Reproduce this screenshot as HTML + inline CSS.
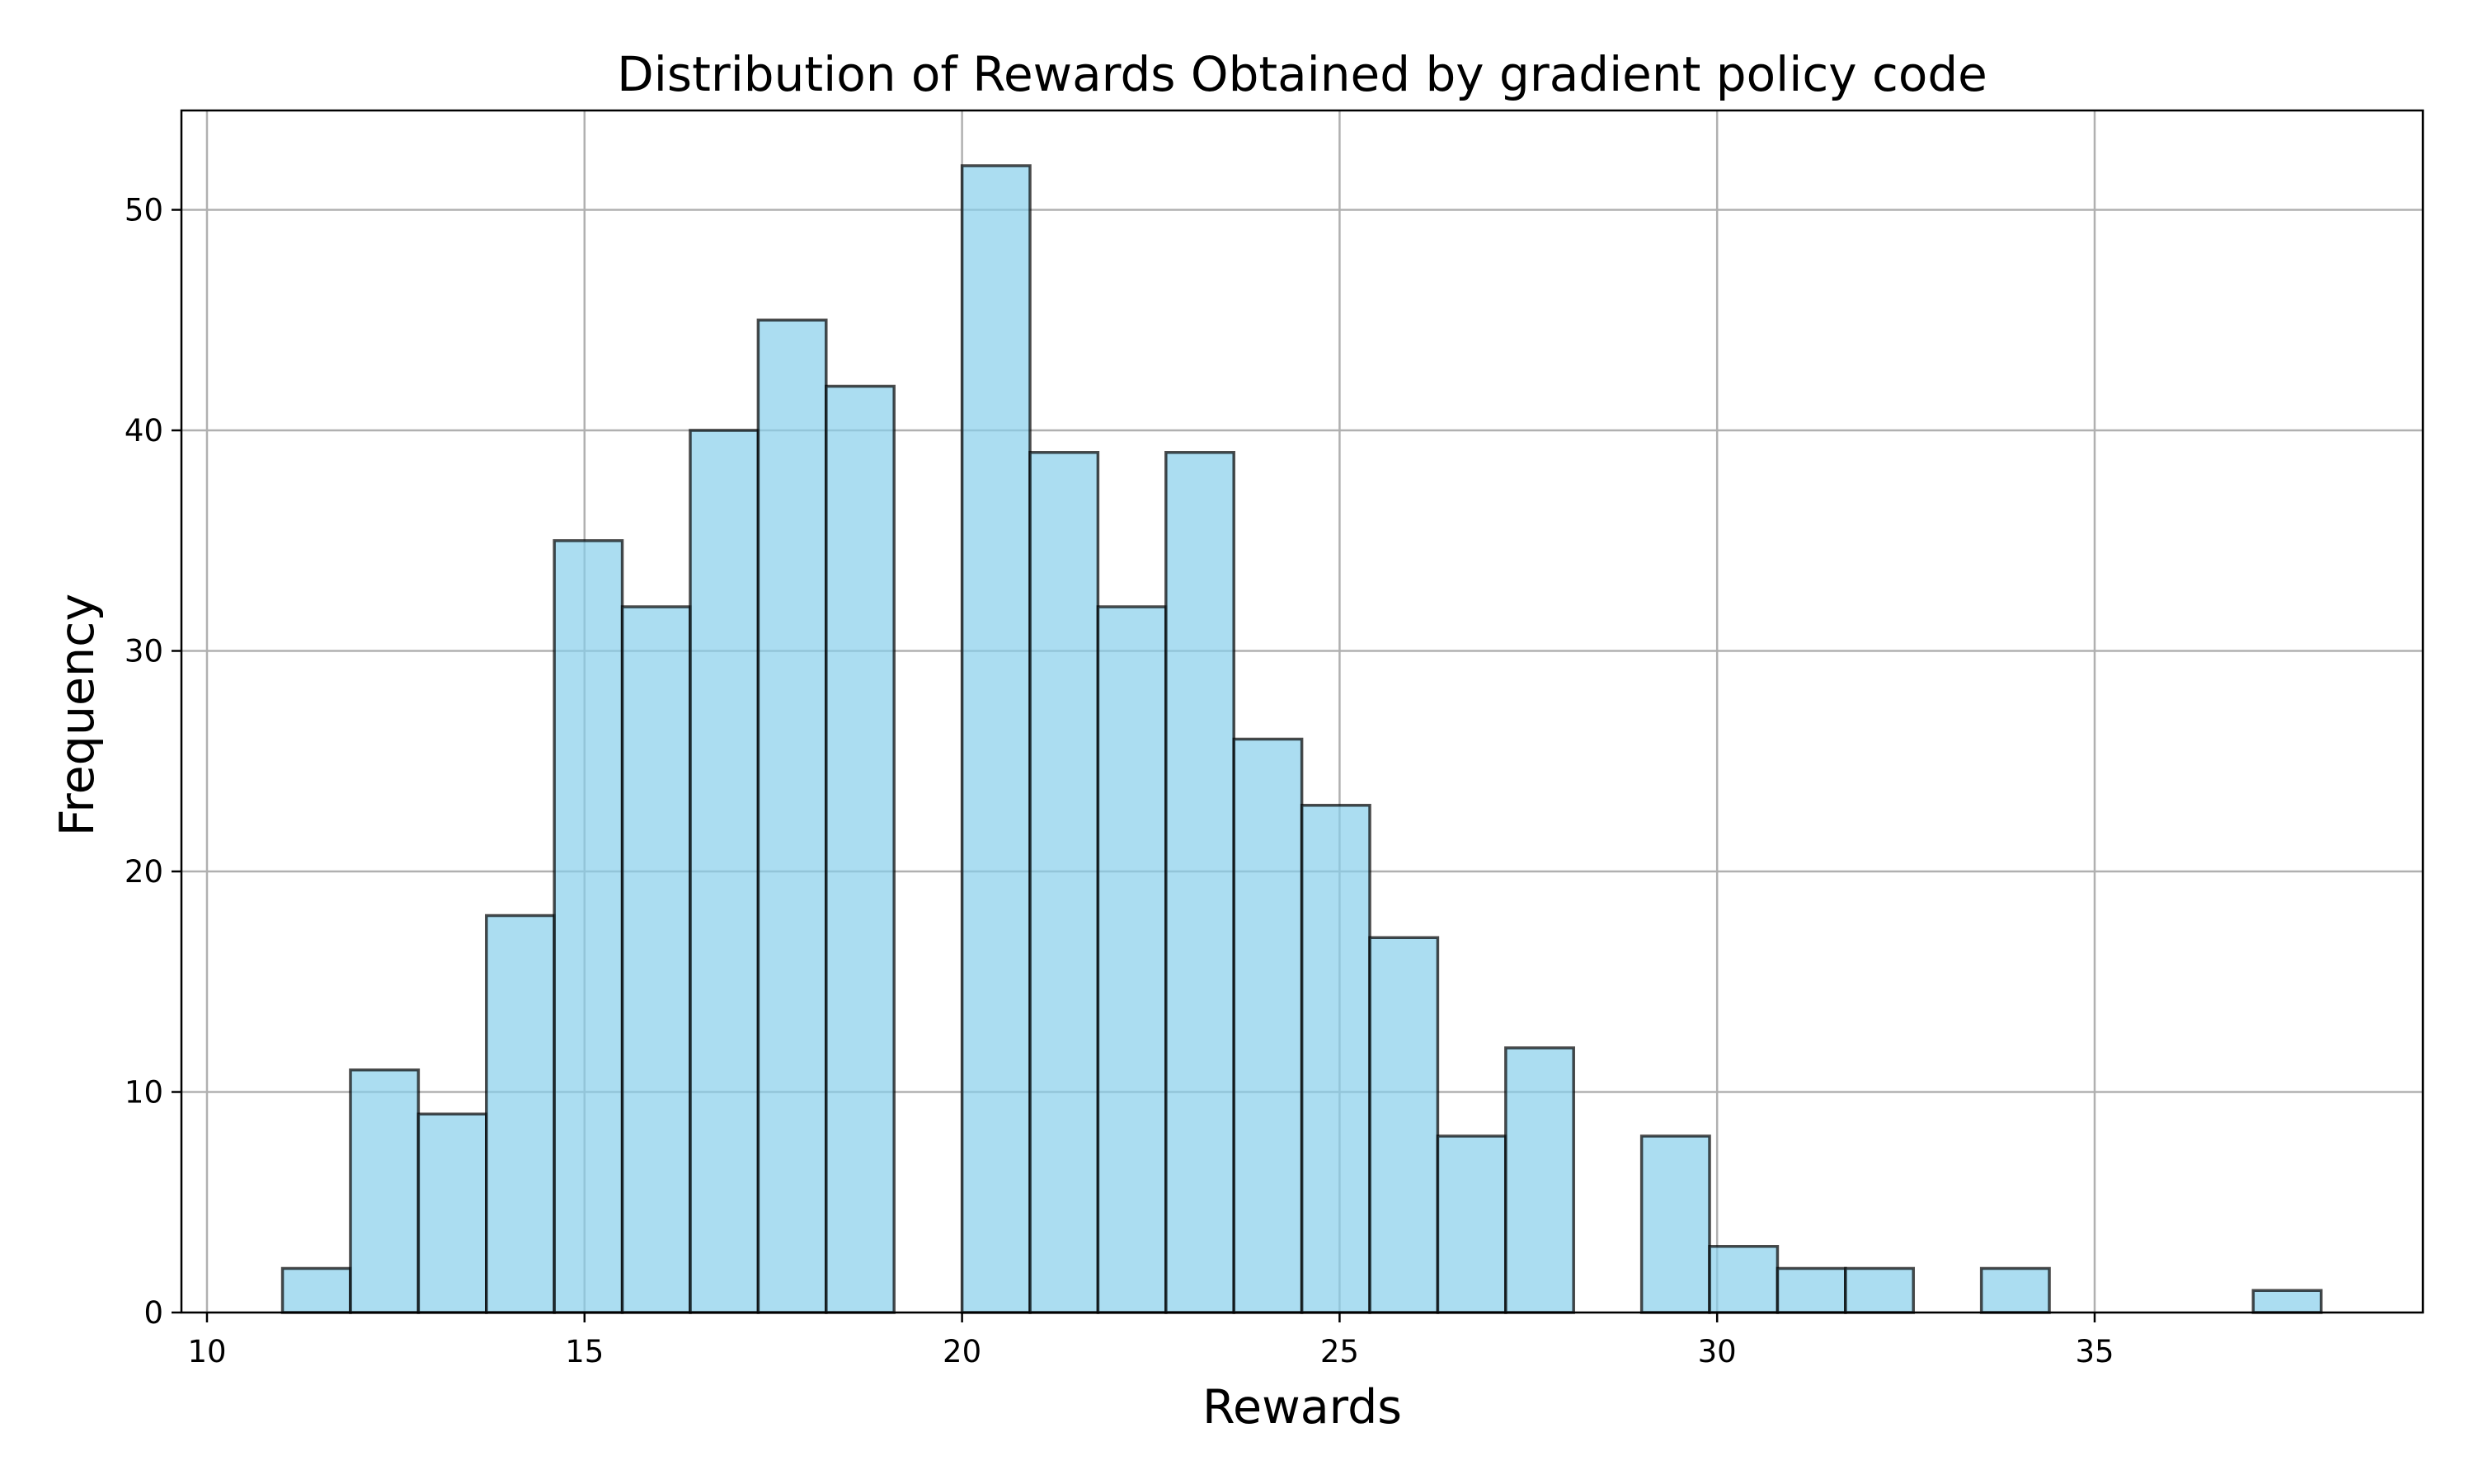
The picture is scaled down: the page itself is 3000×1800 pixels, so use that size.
<!DOCTYPE html>
<html><head><meta charset="utf-8"><style>body{margin:0;background:#fff}svg{display:block;font-family:"DejaVu Sans","Liberation Sans",sans-serif}</style></head>
<body>
<svg id="chart" width="3000" height="1800">
<rect width="3000" height="1800" fill="#fff"/>
<g id="grid"></g><g id="bars"></g><g id="axes"></g>
<text x="1579" y="110" font-size="58" text-anchor="middle">Distribution of Rewards Obtained by gradient policy code</text>
<text x="1579" y="1726" font-size="57" text-anchor="middle">Rewards</text>
<text x="0" y="0" font-size="57" text-anchor="middle" transform="translate(113,867) rotate(-90)">Frequency</text>
</svg>
<script>
const binStart = 11;
const binEnd = 38;
const counts = [2,11,9,18,35,32,40,45,42,0,52,39,32,39,26,23,17,8,12,0,8,3,2,2,0,2,0,0,0,1];
const xTicks = [10,15,20,25,30,35];
const yTicks = [0,10,20,30,40,50];
const L=220,R=2938,T=134,B=1592;
const xs=v=>251+(v-10)*91.56;
const ys=v=>1592-v*26.75;
const NS='http://www.w3.org/2000/svg';
function mk(tag,attrs,parent){const e=document.createElementNS(NS,tag);for(const k in attrs)e.setAttribute(k,attrs[k]);parent.appendChild(e);return e;}
const grid=document.getElementById('grid'),bars=document.getElementById('bars'),axes=document.getElementById('axes');
xTicks.forEach(t=>{
 const g=mk('line',{x1:xs(t),x2:xs(t),y1:T,y2:B,stroke:'#b0b0b0','stroke-width':2.5},grid);
 
 
 const tk=mk('line',{x1:xs(t),x2:xs(t),y1:B,y2:B+12,stroke:'#000','stroke-width':2.5},axes);
 
 
 const lb=mk('text',{x:xs(t),y:B+60,'font-size':37,'text-anchor':'middle'},axes);
 lb.textContent=t;
 
 
});
yTicks.forEach(t=>{
 const g=mk('line',{x1:L,x2:R,y1:ys(t),y2:ys(t),stroke:'#b0b0b0','stroke-width':2.5},grid);
 
 
 const tk=mk('line',{x1:L-12,x2:L,y1:ys(t),y2:ys(t),stroke:'#000','stroke-width':2.5},axes);
 
 
 const lb=mk('text',{x:L-22,y:ys(t)+13,'font-size':37,'text-anchor':'end'},axes);
 lb.textContent=t;
 
 
});
const w=(binEnd-binStart)/counts.length;
counts.forEach((c,i)=>{
 if(c<=0)return;
 const x0=xs(binStart+i*w),x1=xs(binStart+(i+1)*w);
 const r=mk('rect',{x:x0,y:ys(c),width:x1-x0,height:ys(0)-ys(c),fill:'#87ceeb','fill-opacity':0.7,stroke:'#000','stroke-opacity':0.7,'stroke-width':3.5},bars);
 
 
});
const f=mk('rect',{x:L,y:T,width:R-L,height:B-T,fill:'none',stroke:'#000','stroke-width':2.5},axes);


</script>
</body></html>
